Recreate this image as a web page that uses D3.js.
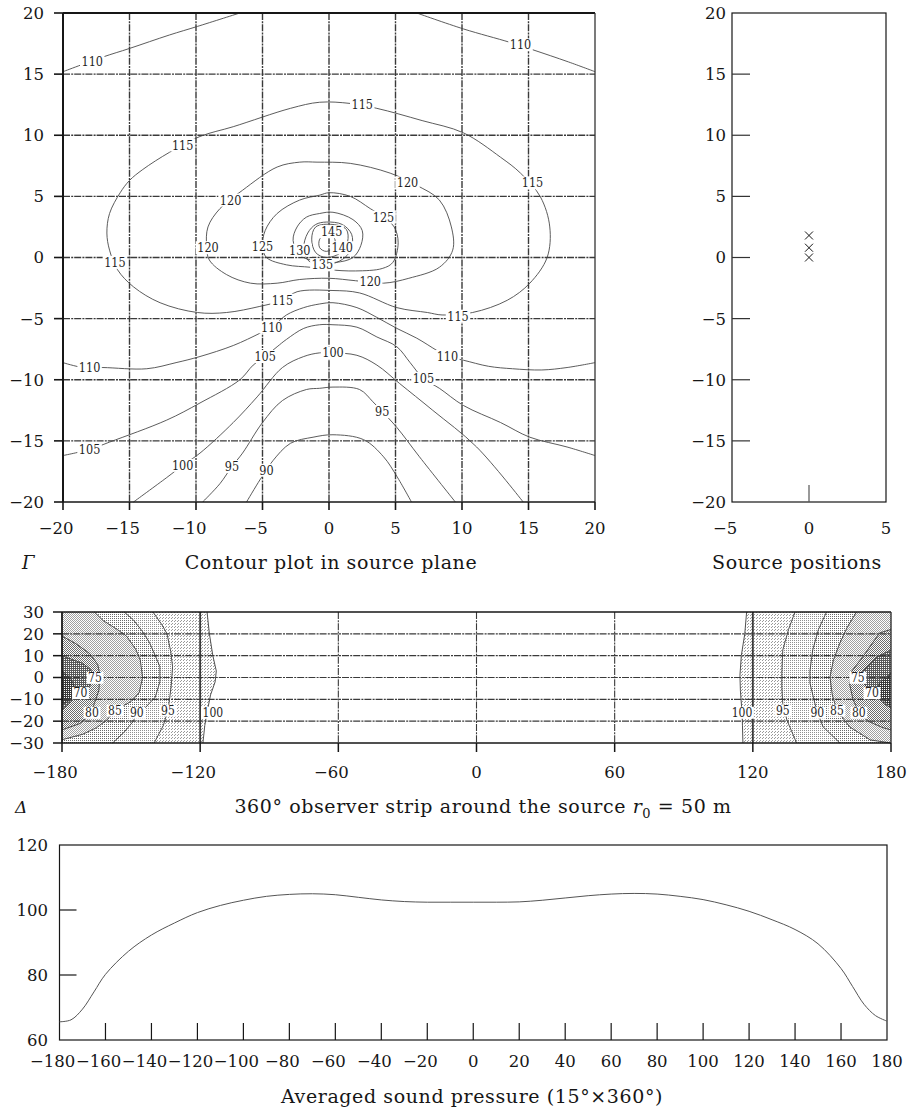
<!DOCTYPE html>
<html>
<head>
<meta charset="utf-8">
<script src="https://cdn.jsdelivr.net/npm/d3@7"></script>
<style>
  body { margin: 0; background: #fff; }
  svg { display: block; }
  text { font-family: "DejaVu Serif", serif; fill: #161616; }
  .clab { font-family: "DejaVu Serif Condensed", "DejaVu Serif", serif; fill: #1e1e1e; }
</style>
</head>
<body>
<svg id="fig" width="908" height="1111"></svg>
<script>
// ---------- source-plane contour plot (dB) ----------
const planeTicks = [-20, -15, -10, -5, 0, 5, 10, 15, 20];
const planeGrid = [-15, -10, -5, 0, 5, 10, 15];

const c110top1 = [[-20,15.2],[-17,16.4],[-15,17.1],[-12,18.2],[-9.9,18.9],[-6.7,20]];
const c110top2 = [[6.6,20],[10.1,18.7],[13.6,17.6],[15.3,17.0],[18,16.0],[20,15.2]];
const c115 = [[-0.7,12.7],[1.6,12.6],[3.6,12.2],[7,11.2],[10.1,10.2],[12.9,8.2],[14.4,6.9],[15.9,4.95],[16.6,2.5],[16.4,0.0],[15.1,-2.1],[13.4,-3.5],[10.8,-4.5],[8.5,-4.7],[7.4,-4.5],[5.1,-4.1],[2.3,-2.9],[0.3,-2.7],[-2.4,-2.8],[-3.5,-3.5],[-5.2,-4.0],[-7.7,-4.5],[-9.9,-4.5],[-12.7,-3.7],[-14.7,-2.4],[-15.9,-1.0],[-16.5,0.6],[-16.7,2.0],[-16.5,3.6],[-15.7,5.3],[-15,6.3],[-14,7.2],[-12,8.6],[-9.7,9.9],[-7.2,10.7],[-2.9,12.2]];
const c120 = [[-0.9,7.8],[1.6,7.7],[4.6,6.9],[6.6,5.9],[8.3,4.7],[9.2,2.5],[9.3,0.6],[8.3,-0.8],[6,-1.7],[4.1,-2.1],[2,-1.9],[0,-1.7],[-2.2,-1.8],[-3.9,-2.1],[-5.9,-2.1],[-7.7,-1.4],[-9.0,-0.2],[-9.2,0.9],[-9.1,2.5],[-8.2,4.0],[-6.5,5.5],[-3.9,7.4],[-2.2,7.8]];
const c125 = [[-0.7,5.1],[0,5.3],[1.6,5.0],[3.1,4.0],[4.1,3.3],[4.9,2.5],[5.2,1.2],[4.8,-0.4],[4.0,-0.9],[2,-1.1],[0,-1.0],[-1.4,-0.8],[-3.2,-0.6],[-4.7,0.0],[-5.0,0.9],[-4.8,2.2],[-3.9,3.6],[-2.2,4.7]];
const c130 = [[-0.7,3.6],[0.3,3.7],[1.8,3.1],[2.5,2.2],[2.4,1.0],[1.8,0.0],[0.5,-0.4],[-1.0,-0.3],[-2.2,0.2],[-2.7,1.4],[-2.4,2.5],[-1.7,3.3]];
const c135 = [[-0.2,2.9],[1.0,2.7],[1.7,1.9],[1.7,0.8],[1.2,0.0],[0.3,-0.5],[-0.8,-0.6],[-1.6,-0.2],[-1.9,0.8],[-1.6,2.0],[-1.0,2.7]];
const c140 = [[-1.0,2.5],[0.3,2.7],[1.3,2.3],[1.4,1.3],[0.9,0.4],[-0.2,0.0],[-1.0,0.4],[-1.3,1.5]];
const c145 = [[-0.7,1.5],[-0.2,1.9],[0.4,1.6],[0.4,0.9],[-0.2,0.5],[-0.7,0.8]];
const c110low = [[-20,-8.6],[-18.5,-9.0],[-17,-9.0],[-13.7,-9.1],[-11.5,-8.6],[-9.7,-8.1],[-7.2,-7.2],[-5.2,-6.2],[-4.3,-5.7],[-3.2,-4.7],[-1.9,-4.1],[-0.7,-3.8],[0.3,-3.7],[2.1,-4.1],[3.6,-4.9],[5.1,-5.8],[6.6,-6.6],[8.1,-7.6],[8.9,-8.1],[10.1,-8.4],[12,-8.9],[13.8,-9.1],[16,-9.2],[17.9,-9.0],[20,-8.6]];
const c105 = [[-20,-16.2],[-18,-15.7],[-16.5,-15.1],[-12.2,-13.3],[-9.7,-11.9],[-6.7,-10.0],[-5.7,-8.8],[-4.8,-8.1],[-3.9,-7.3],[-3.2,-6.7],[-1.9,-5.8],[-0.7,-5.5],[0.3,-5.5],[2.1,-5.7],[3.6,-6.5],[5.1,-7.3],[6.1,-8.6],[7.1,-9.9],[8.3,-10.7],[10.1,-12.1],[12.9,-13.5],[15.1,-14.7],[17.9,-15.5],[20,-16.2]];
const c100 = [[-14.7,-20],[-12.2,-18],[-11,-17],[-9.7,-16],[-7.2,-13.5],[-5.4,-11.4],[-3.5,-9.0],[-1.9,-8.1],[-0.7,-7.8],[0.3,-7.8],[2.1,-8.0],[3.6,-8.8],[5.3,-10.3],[7.8,-12.5],[11.1,-15.5],[14.6,-20]];
const c95 = [[-9.5,-20],[-8.2,-18.5],[-7.3,-17.1],[-6.5,-16],[-5.0,-13.5],[-3.5,-11.7],[-1.7,-10.8],[-0.7,-10.7],[0.3,-10.6],[2.3,-10.8],[3.3,-11.8],[4.0,-12.6],[5.1,-13.9],[6.8,-16.3],[9.5,-20]];
const c90 = [[-6.2,-20],[-5.2,-18.2],[-4.7,-17.4],[-4.2,-16.6],[-2.9,-15.2],[-1.2,-14.7],[0.3,-14.5],[2.6,-14.9],[4.1,-16.3],[5.1,-17.9],[6.2,-20]];

const planeOpen = [c110top1, c110top2, c110low, c105, c100, c95, c90];
const planeClosed = [c115, c120, c125, c130, c135, c140, c145];

// [level, x, y]
const planeLabels = [
  [110,-17.8,16.0],[110,14.4,17.4],
  [115,-11,9.2],[115,2.5,12.5],[115,15.3,6.1],[115,-16.1,-0.4],[115,-3.5,-3.5],[115,9.7,-4.8],
  [120,-7.4,4.7],[120,5.9,6.1],[120,-9.1,0.8],[120,3.1,-2.0],
  [125,-5.0,0.9],[125,4.1,3.3],[130,-2.2,0.6],[145,0.2,2.1],[140,1.0,0.8],[135,-0.5,-0.6],
  [110,-18.0,-9.0],[110,-4.3,-5.7],[110,8.9,-8.1],
  [105,-4.8,-8.1],[105,7.1,-9.9],[105,-18.0,-15.7],
  [100,0.3,-7.8],[100,-11.0,-17.0],
  [95,4.0,-12.6],[95,-7.3,-17.1],[90,-4.7,-17.4]
];

// ---------- source positions ----------
const srcXTicks = [-5, 0, 5];
const srcYTicks = [-20, -15, -10, -5, 0, 5, 10, 15, 20];
const sourceX = [0, 0, 0];
const sourceY = [0, 0.8, 1.8];

// ---------- 360° observer strip ----------
const stripXTicks = [-180, -120, -60, 0, 60, 120, 180];
const stripYTicks = [30, 20, 10, 0, -10, -20, -30];
const stripLevels = [100, 95, 90, 85, 80, 75, 70];

const sL100 = [[-117,30],[-116,20],[-114.5,10],[-113,3],[-113.5,-2],[-115.5,-8],[-117,-16],[-118,-22],[-118.8,-30]];
const sL95 = [[-140.5,30],[-136.5,24],[-134.4,20],[-132.8,12],[-132,5],[-132.5,-3],[-133.3,-10],[-134,-15],[-136,-22],[-140,-30]];
const sL90 = [[-153,30],[-149,26.4],[-145,21],[-142,16],[-139.5,10],[-137.5,5],[-137.5,-2],[-139.5,-9],[-144,-14],[-147.5,-16],[-149,-20],[-153,-25],[-158,-30]];
const sL85 = [[-166,30],[-162,26],[-156,22],[-152,19],[-148,13],[-146,8],[-145,0],[-146.5,-7],[-150,-11],[-157,-15],[-160.5,-19.5],[-165,-23],[-171,-26],[-180,-28.5]];
const sL80 = [[-180,19],[-174,15.5],[-168,11],[-164.5,6],[-163.5,1],[-164,-6],[-166,-12],[-167,-16],[-172,-21],[-180,-24]];
const sL75 = [[-180,10],[-175,8],[-171,6.5],[-167.5,3.5],[-166,0],[-168,-4],[-172,-6.5],[-176,-11],[-180,-15]];
const sL70 = [[-180,3],[-176.5,0],[-175,-3],[-174,-7],[-176,-10],[-180,-12.5]];

const sR100 = [[117.3,30],[116.5,20],[115,10],[114.4,1],[114.6,-6],[115.3,-16],[115.5,-22],[115.7,-30]];
const sR95 = [[138.3,30],[135.5,22],[133,12.6],[132.6,2],[132.6,-4.4],[133,-12],[134.8,-19.5],[139,-30]];
const sR90 = [[152,30],[148.5,22],[146,12.6],[144.8,3],[144.8,-2.5],[146.5,-10],[148,-16],[150.5,-22.6],[157.8,-30]];
const sR85 = [[165,30],[161,23],[157.8,15.8],[155,8],[153.5,0.2],[154.5,-8],[156.5,-15],[162,-22.6],[171,-28.6],[180,-30]];
const sR80 = [[180,22],[175,20.4],[167.8,9.5],[163,3],[162,-3],[163.5,-10],[166,-16],[170,-20],[176.5,-23],[180,-24]];
const sR75 = [[180,12.6],[174,9.5],[167.4,2.5],[166,0],[169.5,-4.4],[173,-8],[177,-12],[180,-14]];
const sR70 = [[180,2],[175,-2.5],[173.5,-6],[176.5,-10],[180,-13.5]];

const stripLeft = [sL100, sL95, sL90, sL85, sL80, sL75, sL70];
const stripRight = [sR100, sR95, sR90, sR85, sR80, sR75, sR70];

// [level, angle, y]
const stripLabels = [
  [75,-165.7,0],[70,-172,-7],[80,-167,-16],[85,-157,-15],[90,-147.5,-16],[95,-134,-15],[100,-114.5,-16],
  [100,115.3,-16],[95,133,-15],[90,148,-16],[85,156.5,-15],[80,166,-16],[75,165.6,0],[70,171.7,-7]
];

// ---------- averaged sound pressure ----------
const avgXTicks = [-180,-160,-140,-120,-100,-80,-60,-40,-20,0,20,40,60,80,100,120,140,160,180];
const avgYTicks = [60, 80, 100, 120];
const avgAngle = [-180,-175,-170,-165,-160,-150,-140,-130,-120,-110,-100,-90,-80,-70,-60,-50,-40,-30,-20,-10,0,10,20,30,40,50,60,70,80,90,100,110,120,130,140,150,160,165,170,175,180];
const avgLevel = [65.6,66.2,69.5,74.8,80.2,87.3,92.3,96.0,99.2,101.4,103.0,104.2,104.8,105.0,104.7,103.9,103.1,102.6,102.4,102.4,102.4,102.4,102.5,103.0,103.7,104.4,104.9,105.1,104.9,104.2,103.2,101.6,99.6,97.0,94.0,89.6,82.0,76.5,71.0,67.5,65.8];

// ======================================================================
const svg = d3.select("#fig");
const INK = "#161616";

function fmt(v) { return v < 0 ? "\u2212" + Math.abs(v) : String(v); }
function textWidth(str, size) {
  const t = svg.append("text").attr("font-size", size).text(str);
  const w = t.node().getComputedTextLength();
  t.remove();
  return w;
}
// x tick label with the digits centred on the tick and the minus sign hanging left
function xLabel(g, x, y, v, size) {
  const w = textWidth(String(Math.abs(v)), size);
  g.append("text").attr("x", x + w / 2).attr("y", y)
    .attr("text-anchor", "end").attr("font-size", size).text(fmt(v));
}
function yLabel(g, x, y, v, size) {
  g.append("text").attr("x", x).attr("y", y).attr("dy", "0.36em")
    .attr("text-anchor", "end").attr("font-size", size).text(fmt(v));
}
function hline(g, x0, x1, y, w, c, dash) {
  const l = g.append("line").attr("x1", x0).attr("x2", x1).attr("y1", y).attr("y2", y)
    .attr("stroke", c || INK).attr("stroke-width", w || 1);
  if (dash) l.attr("stroke-dasharray", dash);
  return l;
}
function vline(g, x, y0, y1, w, c, dash) {
  const l = g.append("line").attr("x1", x).attr("x2", x).attr("y1", y0).attr("y2", y1)
    .attr("stroke", c || INK).attr("stroke-width", w || 1);
  if (dash) l.attr("stroke-dasharray", dash);
  return l;
}
// contour value printed inside a white gap
function gapLabel(g, px, py, lv, size) {
  const t = g.append("text").attr("class", "clab").attr("x", px).attr("y", py).attr("dy", "0.36em")
    .attr("text-anchor", "middle").attr("font-size", size).text(lv);
  const bb = t.node().getBBox();
  g.insert("rect", () => t.node()).attr("x", bb.x - 1.5).attr("y", bb.y + 1).attr("width", bb.width + 3)
    .attr("height", bb.height - 2).attr("fill", "#fff");
}

// ---------------- Panel Γ : contour plot in source plane ----------------
{
  const x = d3.scaleLinear().domain([-20, 20]).range([63, 595]);
  const y = d3.scaleLinear().domain([-20, 20]).range([502, 13]);
  const g = svg.append("g");

  planeGrid.forEach(v => {
    vline(g, x(v), y(20), y(-20), 1.4, "#3a3a3a", "7,1.2,2,1");
    hline(g, x(-20), x(20), y(v), 1.4, "#3a3a3a", "7,1.2,2,1");
  });

  const lineOpen = d3.line().x(d => x(d[0])).y(d => y(d[1])).curve(d3.curveCatmullRom);
  const lineClosed = d3.line().x(d => x(d[0])).y(d => y(d[1])).curve(d3.curveCatmullRomClosed);
  planeOpen.forEach(p => g.append("path").attr("d", lineOpen(p))
    .attr("fill", "none").attr("stroke", "#4a4a4a").attr("stroke-width", 0.9));
  planeClosed.forEach(p => g.append("path").attr("d", lineClosed(p))
    .attr("fill", "none").attr("stroke", "#4a4a4a").attr("stroke-width", 0.9));

  planeLabels.forEach(([lv, a, b]) => gapLabel(g, x(a), y(b), lv, 12.5));

  // frame
  hline(g, x(-20), x(20), y(20), 2, INK);
  vline(g, x(20), y(20), y(-20), 1.3, "#333");
  hline(g, x(-20), x(20), y(-20), 1.6, INK);
  vline(g, x(-20), y(20), y(-20), 2, INK);

  planeTicks.forEach(v => {
    hline(g, x(-20) - 9, x(-20), y(v), 1.6, INK);
    vline(g, x(v), y(-20), y(-20) + 8, 1.6, INK);
    yLabel(g, 44, y(v), v, 16.5);
    xLabel(g, x(v), 534, v, 16.5);
  });

  svg.append("text").attr("x", 22).attr("y", 569).attr("font-size", 18).attr("font-style", "italic").text("Γ");
  svg.append("text").attr("x", 331).attr("y", 569).attr("text-anchor", "middle").attr("font-size", 19)
    .attr("letter-spacing", 0.6).text("Contour plot in source plane");
}

// ---------------- Source positions ----------------
{
  const x = d3.scaleLinear().domain([-5, 5]).range([732, 886]);
  const y = d3.scaleLinear().domain([-20, 20]).range([502, 13]);
  const g = svg.append("g");
  g.append("rect").attr("x", x(-5)).attr("y", y(20)).attr("width", x(5) - x(-5)).attr("height", y(-20) - y(20))
    .attr("fill", "none").attr("stroke", INK).attr("stroke-width", 1.2);
  srcYTicks.forEach(v => {
    if (v > -20 && v < 20) hline(g, x(-5), x(-5) + 18, y(v), 1.2, "#333");
    yLabel(g, 726, y(v), v, 16.5);
  });
  srcXTicks.forEach(v => {
    if (v > -5 && v < 5) vline(g, x(v), y(-20), y(-20) - 17, 1.2, "#555");
    xLabel(g, x(v), 534, v, 16.5);
  });
  sourceX.forEach((sx, i) => {
    const cx = x(sx), cy = y(sourceY[i]), r = 4;
    g.append("path").attr("d", `M${cx - r},${cy - r}L${cx + r},${cy + r}M${cx - r},${cy + r}L${cx + r},${cy - r}`)
      .attr("stroke", INK).attr("stroke-width", 1);
  });
  svg.append("text").attr("x", 797).attr("y", 569).attr("text-anchor", "middle").attr("font-size", 19)
    .attr("letter-spacing", 0.6).text("Source positions");
}

// ---------------- Panel Δ : 360° observer strip ----------------
{
  const x = d3.scaleLinear().domain([-180, 180]).range([62, 891]);
  const y = d3.scaleLinear().domain([-30, 30]).range([743, 612]);
  const g = svg.append("g");
  const defs = svg.append("defs");

  // stipple patterns, light to dark
  const shades = [
    { size: 3, dots: [[0, 0], [1, 2]], col: "#9a9a9a" },
    { size: 2, dots: [[0, 0]], col: "#909090" },
    { size: 2, dots: [[0, 0]], col: "#6a6a6a" },
    { size: 2, dots: [[0, 0], [1, 1]], col: "#a0a0a0" },
    { size: 2, dots: [[0, 0], [1, 1]], col: "#6e6e6e" },
    { size: 2, dots: [[0, 0], [1, 1], [1, 0]], col: "#5a5a5a" },
    { size: 2, dots: [[0, 0], [1, 1], [1, 0]], col: "#3a3a3a" }
  ];
  shades.forEach((s, i) => {
    const p = defs.append("pattern").attr("id", "stip" + i).attr("patternUnits", "userSpaceOnUse")
      .attr("width", s.size).attr("height", s.size);
    p.append("rect").attr("width", s.size).attr("height", s.size).attr("fill", "#fff");
    s.dots.forEach(d => p.append("rect").attr("x", d[0]).attr("y", d[1]).attr("width", 1).attr("height", 1).attr("fill", s.col));
  });

  const lin = d3.line().x(d => x(d[0])).y(d => y(d[1]));
  stripLevels.forEach((lv, i) => {
    [[stripLeft[i], -180], [stripRight[i], 180]].forEach(([pts, edge]) => {
      const poly = pts.concat([[edge, pts[pts.length - 1][1]], [edge, pts[0][1]]]);
      g.append("path").attr("d", lin(poly) + "Z").attr("fill", `url(#stip${i})`).attr("stroke", "none");
    });
  });

  stripYTicks.forEach(v => {
    if (v > -30 && v < 30) hline(g, x(-180), x(180), y(v), 1.1, "#3a3a3a", "7,1.2,2,1");
  });
  stripXTicks.forEach(v => {
    if (v > -180 && v < 180) vline(g, x(v), y(30), y(-30), Math.abs(v) === 120 ? 1.8 : 1.1, "#3a3a3a", Math.abs(v) === 120 ? null : "7,1.2,2,1");
  });

  stripLevels.forEach((lv, i) => {
    [stripLeft[i], stripRight[i]].forEach(pts => {
      g.append("path").attr("d", lin(pts)).attr("fill", "none").attr("stroke", "#3d3d3d").attr("stroke-width", 0.9);
    });
  });

  stripLabels.forEach(([lv, a, b]) => gapLabel(g, x(a), y(b), lv, 12));

  hline(g, x(-180), x(180), y(30), 1.6, INK);
  hline(g, x(-180), x(180), y(-30), 1.6, INK);
  vline(g, x(180), y(30), y(-30), 1.4, "#333");
  vline(g, x(-180), y(30), y(-30), 1.8, INK);

  stripYTicks.forEach(v => {
    hline(g, x(-180) - 9, x(-180), y(v), 1.5, INK);
    yLabel(g, 44, y(v), v, 16.5);
  });
  stripXTicks.forEach(v => {
    vline(g, x(v), y(-30), y(-30) + 9, 1.5, INK);
    xLabel(g, x(v), 778, v, 16.5);
  });

  svg.append("text").attr("x", 15).attr("y", 813).attr("font-size", 17).attr("font-style", "italic").text("Δ");
  const tt = svg.append("text").attr("x", 483).attr("y", 813).attr("text-anchor", "middle")
    .attr("font-size", 19).attr("letter-spacing", 0.6);
  tt.append("tspan").text("360° observer strip around the source ");
  tt.append("tspan").attr("font-style", "italic").text("r");
  tt.append("tspan").attr("font-size", 13).attr("dy", 5).text("0");
  tt.append("tspan").attr("dy", -5).text(" = 50 m");
}

// ---------------- Averaged sound pressure ----------------
{
  const x = d3.scaleLinear().domain([-180, 180]).range([59.5, 887]);
  const y = d3.scaleLinear().domain([60, 120]).range([1040, 845]);
  const g = svg.append("g");

  g.append("rect").attr("x", x(-180)).attr("y", y(120)).attr("width", x(180) - x(-180)).attr("height", y(60) - y(120))
    .attr("fill", "none").attr("stroke", INK).attr("stroke-width", 1.2);

  avgYTicks.forEach(v => {
    if (v > 60 && v < 120) hline(g, x(-180), x(-180) + 17, y(v), 1.2, INK);
    yLabel(g, 48, y(v), v, 16.5);
  });
  avgXTicks.forEach(v => {
    if (v > -180 && v < 180) vline(g, x(v), y(60), y(60) - 17, 1.2, INK);
    xLabel(g, x(v), 1067, v, 16.5);
  });

  const line = d3.line().x((d, i) => x(avgAngle[i])).y(d => y(d)).curve(d3.curveCatmullRom);
  g.append("path").attr("d", line(avgLevel)).attr("fill", "none").attr("stroke", "#555").attr("stroke-width", 1);

  svg.append("text").attr("x", 472).attr("y", 1103).attr("text-anchor", "middle").attr("font-size", 19)
    .attr("letter-spacing", 0.6).text("Averaged sound pressure (15°×360°)");
}
</script>
</body>
</html>
